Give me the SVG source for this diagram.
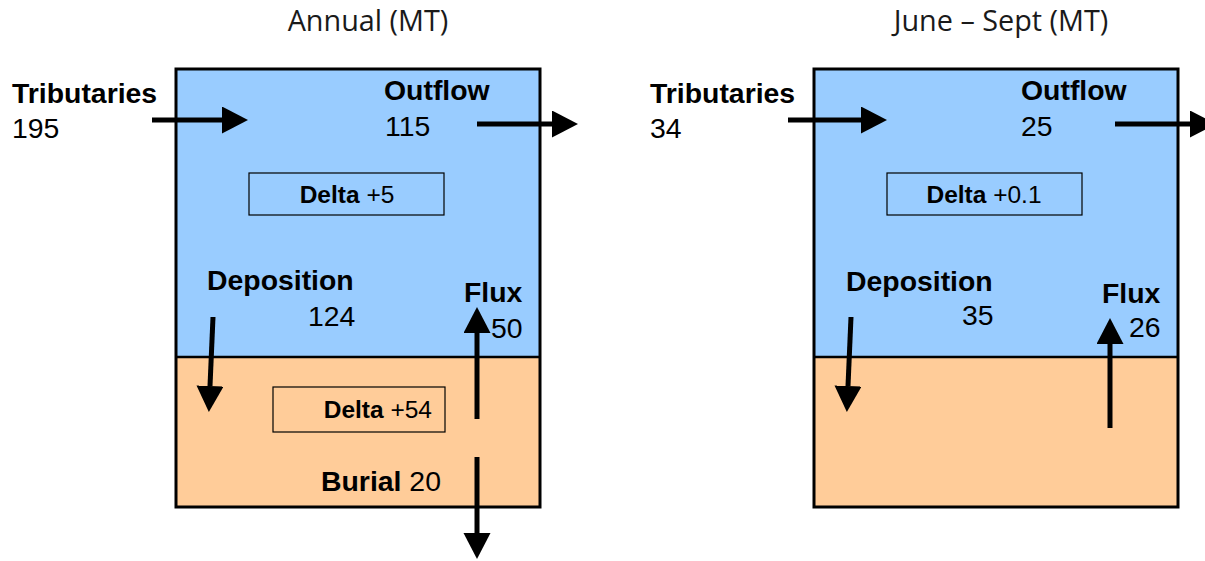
<svg xmlns="http://www.w3.org/2000/svg" width="1205" height="561" viewBox="0 0 1205 561">
  <style>
    .title { font-family: "Open Sans", "Liberation Sans", sans-serif; font-size: 28.8px; fill: #1a1a1a; text-anchor: middle; }
    .lbl { font-family: "Liberation Sans", Arial, sans-serif; font-size: 28.4px; fill: #000; }
    .b { font-weight: bold; }
    .dl { font-family: "Liberation Sans", Arial, sans-serif; font-size: 24.5px; fill: #000; }
    .water { fill: #99CCFF; }
    .sed { fill: #FFCC99; }
    .frame { fill: none; stroke: #000; stroke-width: 3; }
    .divider { stroke: #000; stroke-width: 2.5; }
    .dbox { fill: none; stroke: #000; stroke-width: 1.2; }
    .flow { stroke: #000; stroke-width: 5; fill: none; marker-end: url(#head); }
  </style>
  <defs>
    <marker id="head" markerUnits="userSpaceOnUse" markerWidth="26" markerHeight="28" refX="0" refY="13.5" orient="auto">
      <path d="M0,0 L26,13.5 L0,27 z" fill="#000"/>
    </marker>
  </defs>

  <rect width="1205" height="561" fill="#fff"/>

  <!-- Annual budget panel -->
  <g id="annual">
    <text class="title" x="368" y="31">Annual (MT)</text>
    <rect class="water" x="176" y="69" width="364" height="288"/>
    <rect class="sed" x="176" y="357" width="364" height="150"/>
    <line class="divider" x1="176" y1="357" x2="540" y2="357"/>
    <rect class="frame" x="176" y="69" width="364" height="438"/>
  </g>
  <g id="annual-tributaries">
    <text class="lbl b" x="12" y="103">Tributaries</text>
    <text class="lbl" x="12" y="138">195</text>
  </g>
  <g id="annual-outflow">
    <text class="lbl b" x="384" y="100">Outflow</text>
    <text class="lbl" x="385" y="136">115</text>
  </g>
  <g id="annual-delta-water">
    <rect class="dbox" x="249" y="173" width="195" height="42"/>
    <text class="dl" x="347" y="203" text-anchor="middle"><tspan class="b">Delta</tspan> +5</text>
  </g>
  <g id="annual-deposition">
    <text class="lbl b" x="207" y="290">Deposition</text>
    <text class="lbl" x="308" y="326">124</text>
  </g>
  <g id="annual-flux">
    <text class="lbl b" x="464" y="302">Flux</text>
    <text class="lbl" x="491" y="338">50</text>
  </g>
  <g id="annual-delta-sediment">
    <rect class="dbox" x="273" y="387" width="172" height="45"/>
    <text class="dl" x="432" y="418" text-anchor="end"><tspan class="b">Delta</tspan> +54</text>
  </g>
  <g id="annual-burial">
    <text class="lbl" x="321" y="491"><tspan class="b">Burial</tspan> 20</text>
  </g>

  <!-- June to September panel -->
  <g id="summer">
    <text class="title" x="1001" y="31">June – Sept (MT)</text>
    <rect class="water" x="814" y="69" width="364" height="288"/>
    <rect class="sed" x="814" y="357" width="364" height="150"/>
    <line class="divider" x1="814" y1="357" x2="1178" y2="357"/>
    <rect class="frame" x="814" y="69" width="364" height="438"/>
  </g>
  <g id="summer-tributaries">
    <text class="lbl b" x="650" y="103">Tributaries</text>
    <text class="lbl" x="650" y="138">34</text>
  </g>
  <g id="summer-outflow">
    <text class="lbl b" x="1021" y="100">Outflow</text>
    <text class="lbl" x="1021" y="136">25</text>
  </g>
  <g id="summer-delta-water">
    <rect class="dbox" x="887" y="173" width="195" height="42"/>
    <text class="dl" x="984" y="203" text-anchor="middle"><tspan class="b">Delta</tspan> +0.1</text>
  </g>
  <g id="summer-deposition">
    <text class="lbl b" x="846" y="291">Deposition</text>
    <text class="lbl" x="962" y="325">35</text>
  </g>
  <g id="summer-flux">
    <text class="lbl b" x="1102" y="303">Flux</text>
    <text class="lbl" x="1129" y="337">26</text>
  </g>

  <!-- mass flows -->
  <g id="connectors">
    <line class="flow" x1="152" y1="120" x2="222" y2="120"/>
    <line class="flow" x1="477" y1="124" x2="552" y2="124"/>
    <line class="flow" x1="213" y1="317" x2="210" y2="386"/>
    <line class="flow" x1="477" y1="419" x2="477" y2="333"/>
    <line class="flow" x1="477" y1="457" x2="477" y2="533"/>

    <line class="flow" x1="788" y1="120" x2="861" y2="120"/>
    <line class="flow" x1="1115" y1="124" x2="1190" y2="124"/>
    <line class="flow" x1="851" y1="317" x2="848" y2="386"/>
    <line class="flow" x1="1110" y1="428" x2="1110" y2="344"/>
  </g>
</svg>
